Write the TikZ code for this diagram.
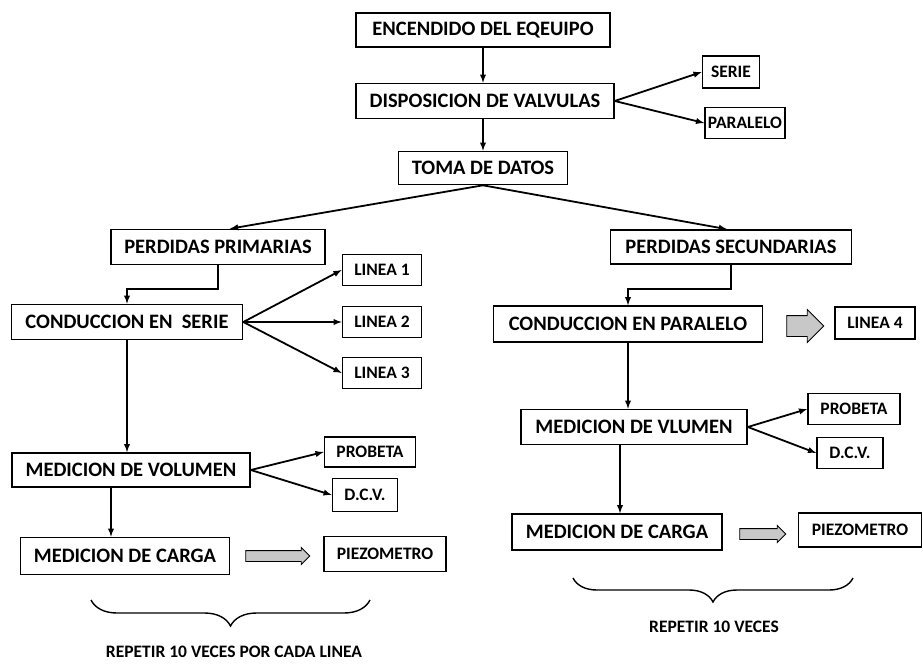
\documentclass[tikz,border=0pt]{standalone}
\usepackage{fontspec}
\setmainfont{Carlito}
\usetikzlibrary{positioning, shapes.arrows, decorations.pathreplacing}

\begin{document}
\begin{tikzpicture}[x=1pt, y=-1pt]

% Define colors
\definecolor{mygray}{RGB}{200, 200, 200}

\tikzset{
  bigbox/.style={draw, line width=1.6pt, fill=white, inner sep=0pt, font=\bfseries\fontsize{20.5}{22}\selectfont},
  smallbox/.style={bigbox, font=\bfseries\fontsize{17.5}{19}\selectfont},
  flow/.style={-latex, line width=1.8pt},
  fatarrow/.style={single arrow, draw, fill=mygray, line width=0.9pt},
  bracket/.style={decorate, line width=1.4pt},
  note/.style={font=\bfseries\fontsize{17.5}{19}\selectfont}
}

\useasboundingbox (0,0) rectangle (923,667);

% Top boxes
\node[bigbox, minimum width=254, minimum height=34] (enc) at (483,30) {ENCENDIDO DEL EQEUIPO};
\node[bigbox, minimum width=258, minimum height=35] (disp) at (485,101) {DISPOSICION DE VALVULAS};
\node[smallbox, minimum width=57, minimum height=32] (serie) at (731,72) {SERIE};
\node[smallbox, minimum width=80, minimum height=31] (paralelo) at (745,123) {PARALELO};
\node[bigbox, minimum width=169, minimum height=33] (toma) at (483,168) {TOMA DE DATOS};

% Left branch
\node[bigbox, minimum width=214, minimum height=35] (pprim) at (218,247) {PERDIDAS PRIMARIAS};
\node[bigbox, minimum width=231, minimum height=35] (cserie) at (127,322) {CONDUCCION EN~~SERIE};
\node[smallbox, minimum width=79, minimum height=31] (lin1) at (382,270) {LINEA 1};
\node[smallbox, minimum width=79, minimum height=31] (lin2) at (382,322) {LINEA 2};
\node[smallbox, minimum width=79, minimum height=31] (lin3) at (382,373) {LINEA 3};
\node[bigbox, minimum width=238, minimum height=34] (mvol) at (131,470) {MEDICION DE VOLUMEN};
\node[smallbox, minimum width=91, minimum height=30] (prob1) at (370,452) {PROBETA};
\node[smallbox, minimum width=65, minimum height=33] (dcv1) at (365,495) {D.C.V.};
\node[bigbox, minimum width=209, minimum height=37] (mcar1) at (125,556) {MEDICION DE CARGA};
\node[smallbox, minimum width=122, minimum height=35] (piez1) at (385,554) {PIEZOMETRO};
\node[fatarrow, minimum height=64, minimum width=16, inner sep=5pt, single arrow head extend=3pt] (fa1) at (275,556) {};

% Right branch
\node[bigbox, minimum width=241, minimum height=34] (psec) at (731,247) {PERDIDAS SECUNDARIAS};
\node[bigbox, minimum width=269, minimum height=36] (cpar) at (628,324) {CONDUCCION EN PARALELO};
\node[smallbox, minimum width=80, minimum height=32] (lin4) at (875,323) {LINEA 4};
\node[fatarrow, minimum height=37, minimum width=32, inner sep=10pt, single arrow head extend=6pt] (fa2) at (800,326) {};
\node[bigbox, minimum width=226, minimum height=35] (mvol2) at (634,427) {MEDICION DE VLUMEN};
\node[smallbox, minimum width=92, minimum height=31] (prob2) at (854,409) {PROBETA};
\node[smallbox, minimum width=66, minimum height=31] (dcv2) at (850,453) {D.C.V.};
\node[bigbox, minimum width=210, minimum height=36] (mcar2) at (617,532) {MEDICION DE CARGA};
\node[smallbox, minimum width=123, minimum height=34] (piez2) at (860,530) {PIEZOMETRO};
\node[fatarrow, minimum height=46, minimum width=16, inner sep=5pt, single arrow head extend=3pt] (fa3) at (760,534) {};

% Arrows at the top
\draw[flow] (enc.south) -- (enc.south |- disp.north);
\draw[flow] (disp.east) -- (serie.west);
\draw[flow] (disp.east) -- (paralelo.west);
\draw[flow] (toma.north |- disp.south) -- (toma.north);
\draw[flow] (toma.south) -- ([xshift=12]pprim.north);
\draw[flow] (toma.south) -- ([xshift=-4]psec.north);

% Arrows on the left
\draw[flow] (pprim.south) -- ++(0,24) -| (cserie.north);
\draw[flow] (cserie.east) -- (lin1.west);
\draw[flow] (cserie.east) -- (lin2.west);
\draw[flow] (cserie.east) -- (lin3.west);
\draw[flow] (cserie.south) -- (cserie.south |- mvol.north);
\draw[flow] (mvol.east) -- (prob1.west);
\draw[flow] (mvol.east) -- (dcv1.west);
\draw[flow] ([xshift=-20]mvol.south) -- ([xshift=-20]mvol.south |- mcar1.north);

% Arrows on the right
\draw[flow] (psec.south) -- ++(0,24) -| (cpar.north);
\draw[flow] (cpar.south) -- (cpar.south |- mvol2.north);
\draw[flow] (mvol2.east) -- (prob2.west);
\draw[flow] (mvol2.east) -- (dcv2.west);
\draw[flow] ([xshift=-14]mvol2.south) -- ([xshift=-14]mvol2.south |- mcar2.north);

% Braces and the bottom text
\draw[bracket, decoration={brace, mirror, amplitude=26pt}] (91,600) -- (370,600);
\draw[bracket, decoration={brace, mirror, amplitude=24pt}] (573,578) -- (853,578);
\node[note] (rep1) at (234,652) {REPETIR 10 VECES POR CADA LINEA};
\node[note] (rep2) at (714,627) {REPETIR 10 VECES};

\end{tikzpicture}
\end{document}
